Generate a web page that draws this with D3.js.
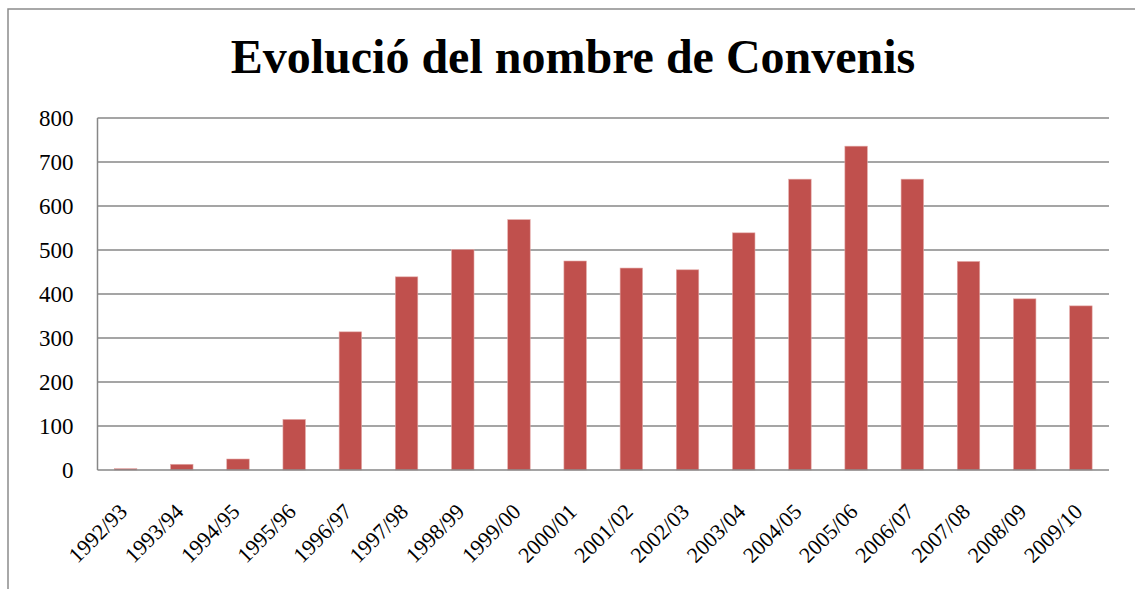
<!DOCTYPE html>
<html>
<head>
<meta charset="utf-8">
<script src="https://cdn.jsdelivr.net/npm/d3@7"></script>
<style>
html, body { margin: 0; padding: 0; background: #fff; }
svg { display: block; }
</style>
</head>
<body>
<script>
const categories = ["1992/93","1993/94","1994/95","1995/96","1996/97","1997/98","1998/99","1999/00","2000/01","2001/02","2002/03","2003/04","2004/05","2005/06","2006/07","2007/08","2008/09","2009/10"];
const values = [3, 13, 25, 115, 314, 439, 501, 569, 475, 459, 455, 539, 661, 736, 661, 474, 389, 373];
const yTicks = [0, 100, 200, 300, 400, 500, 600, 700, 800];
const title = "Evolució del nombre de Convenis";

const W = 1135, H = 589;
const plot = { left: 97.5, right: 1109, top: 118, bottom: 470 };

const svg = d3.select("body").append("svg").attr("width", W).attr("height", H);

// chart border
svg.append("path")
  .attr("d", `M8,${H} L8,9 L${W},9`)
  .attr("fill", "none").attr("stroke", "#8c8c8c").attr("stroke-width", 1.5);

const x = d3.scaleBand().domain(categories).range([plot.left, plot.right]).paddingInner(0.6).paddingOuter(0.3);
const y = d3.scaleLinear().domain([0, 800]).range([plot.bottom, plot.top]);

// gridlines
svg.append("g").selectAll("line").data(yTicks.filter(d => d > 0)).join("line")
  .attr("x1", plot.left).attr("x2", plot.right)
  .attr("y1", d => y(d)).attr("y2", d => y(d))
  .attr("stroke", "#878787").attr("stroke-width", 1.5);

// bars
svg.append("g").selectAll("rect").data(values).join("rect")
  .attr("x", (d, i) => x(categories[i]))
  .attr("width", x.bandwidth())
  .attr("y", d => y(d))
  .attr("height", d => y(0) - y(d))
  .attr("fill", "#C0504D")
  .attr("stroke", "#e3a9a7").attr("stroke-width", 0.6);

// axis lines
svg.append("line").attr("x1", plot.left).attr("x2", plot.left)
  .attr("y1", plot.top).attr("y2", plot.bottom)
  .attr("stroke", "#878787").attr("stroke-width", 1.5);
svg.append("line").attr("x1", plot.left).attr("x2", plot.right)
  .attr("y1", plot.bottom).attr("y2", plot.bottom)
  .attr("stroke", "#878787").attr("stroke-width", 1.5);

// y labels
const yAxis = d3.axisLeft(y).tickValues(yTicks).tickSize(0).tickPadding(24);
const ya = svg.append("g").attr("transform", `translate(${plot.left},0)`).call(yAxis);
ya.select(".domain").remove();
ya.selectAll("text")
  .attr("font-family", "'Liberation Serif', 'Times New Roman', serif")
  .attr("font-size", 23).attr("fill", "#000");

// x labels
svg.append("g").selectAll("text").data(categories).join("text")
  .attr("transform", d => `translate(${x(d) + x.bandwidth() / 2 + 3},${plot.bottom + 43}) rotate(-45)`)
  .attr("text-anchor", "end")
  .attr("font-family", "'Liberation Serif', 'Times New Roman', serif")
  .attr("font-size", 22).attr("fill", "#000")
  .text(d => d);

// title
svg.append("text")
  .attr("x", 573).attr("y", 73)
  .attr("text-anchor", "middle")
  .attr("font-family", "'Liberation Serif', 'Times New Roman', serif")
  .attr("font-weight", "bold")
  .attr("font-size", 48).attr("fill", "#000")
  .text(title);
</script>
</body>
</html>
